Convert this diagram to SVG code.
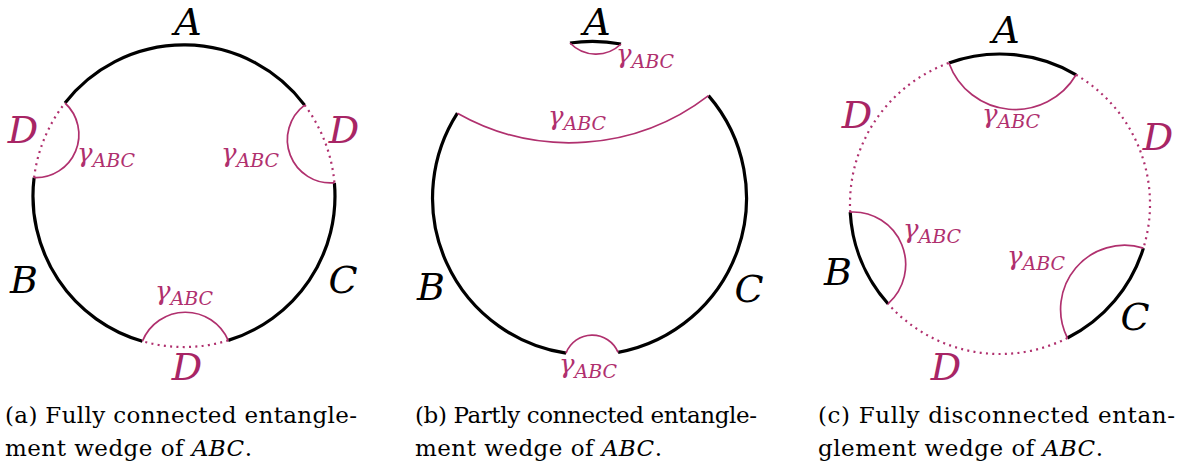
<svg xmlns="http://www.w3.org/2000/svg" width="1181" height="471" viewBox="0 0 1181 471">
<rect width="1181" height="471" fill="#fff"/>
<g id="panel-a">
  <g id="a-boundary" fill="none" stroke="#000" stroke-width="3.2">
    <path d="M65.0,103.0 A151,151 0 0 1 304.6,105.1"/>
    <path d="M334.4,182.8 A151,151 0 0 1 228.2,340.4"/>
    <path d="M142.4,341.2 A151,151 0 0 1 34.1,177.6"/>
  </g>
  <g id="a-dotted" fill="none" stroke="#B0306E" stroke-width="2.2" stroke-dasharray="2 4.3">
    <path d="M34.1,177.6 A151,151 0 0 1 65.0,103.0"/>
    <path d="M304.6,105.1 A151,151 0 0 1 334.4,182.8"/>
    <path d="M228.2,340.4 A151,151 0 0 1 142.4,341.2"/>
  </g>
  <g id="a-geodesics" fill="none" stroke="#B0306E" stroke-width="1.7">
    <path d="M34.1,177.6 A43,43 0 0 0 65.0,103.0"/>
    <path d="M304.6,105.1 A43.3,43.3 0 0 0 334.4,182.8"/>
    <path d="M228.2,340.4 A46.5,46.5 0 0 0 142.4,341.2"/>
  </g>
  <g id="a-labels">
    <text font-family="DejaVu Serif" font-style="italic" font-size="38" text-anchor="middle" x="188" y="35">A</text>
    <text font-family="DejaVu Serif" font-style="italic" font-size="38" text-anchor="middle" x="24" y="293">B</text>
    <text font-family="DejaVu Serif" font-style="italic" font-size="38" text-anchor="middle" x="343" y="293">C</text>
    <text font-family="DejaVu Serif" font-style="italic" font-size="38" text-anchor="middle" fill="#A82565" x="23" y="143">D</text>
    <text font-family="DejaVu Serif" font-style="italic" font-size="38" text-anchor="middle" fill="#A82565" x="344" y="143">D</text>
    <text font-family="DejaVu Serif" font-style="italic" font-size="38" text-anchor="middle" fill="#A82565" x="187" y="380">D</text>
    <text font-family="DejaVu Serif" font-style="italic" font-size="26" fill="#B0306E" x="77" y="162">γ<tspan font-size="19" dy="5">ABC</tspan></text>
    <text font-family="DejaVu Serif" font-style="italic" font-size="26" fill="#B0306E" x="221" y="162">γ<tspan font-size="19" dy="5">ABC</tspan></text>
    <text font-family="DejaVu Serif" font-style="italic" font-size="26" fill="#B0306E" x="155" y="300">γ<tspan font-size="19" dy="5">ABC</tspan></text>
  </g>
</g>

<g id="panel-b">
  <g id="b-boundary" fill="none" stroke="#000" stroke-width="3.2">
    <path d="M708.5,95.6 A157,157 0 0 1 618.1,352.4"/>
    <path d="M566.0,353.2 A157,157 0 0 1 457.4,113.2"/>
    <path d="M570,43 A157,157 0 0 1 621,44"/>
  </g>
  <g id="b-geodesics" fill="none" stroke="#B0306E" stroke-width="1.7">
    <path d="M457.4,113.2 A228,228 0 0 0 708.5,95.6"/>
    <path d="M566.0,353.2 A28,28 0 0 1 618.1,352.4"/>
    <path d="M570,43 A36,36 0 0 0 621,44"/>
  </g>
  <g id="b-labels">
    <text font-family="DejaVu Serif" font-style="italic" font-size="38" text-anchor="middle" x="597" y="35">A</text>
    <text font-family="DejaVu Serif" font-style="italic" font-size="38" text-anchor="middle" x="431" y="300">B</text>
    <text font-family="DejaVu Serif" font-style="italic" font-size="38" text-anchor="middle" x="749" y="302">C</text>
    <text font-family="DejaVu Serif" font-style="italic" font-size="26" fill="#B0306E" x="616" y="63">γ<tspan font-size="19" dy="5">ABC</tspan></text>
    <text font-family="DejaVu Serif" font-style="italic" font-size="26" fill="#B0306E" x="548" y="125">γ<tspan font-size="19" dy="5">ABC</tspan></text>
    <text font-family="DejaVu Serif" font-style="italic" font-size="26" fill="#B0306E" x="559" y="373">γ<tspan font-size="19" dy="5">ABC</tspan></text>
  </g>
</g>

<g id="panel-c">
  <g id="c-boundary" fill="none" stroke="#000" stroke-width="3.2">
    <path d="M948.9,62.95 A150,150 0 0 1 1076.1,74.8"/>
    <path d="M1143.4,248.1 A150,150 0 0 1 1067.4,338.0"/>
    <path d="M888.0,303.8 A150,150 0 0 1 850.2,212.1"/>
  </g>
  <g id="c-dotted" fill="none" stroke="#B0306E" stroke-width="2.2" stroke-dasharray="2 4.3">
    <path d="M1076.1,74.8 A150,150 0 0 1 1143.4,248.1"/>
    <path d="M1067.4,338.0 A150,150 0 0 1 888.0,303.8"/>
    <path d="M850.2,212.1 A150,150 0 0 1 948.9,62.95"/>
  </g>
  <g id="c-geodesics" fill="none" stroke="#B0306E" stroke-width="1.7">
    <path d="M948.9,62.95 A70.6,70.6 0 0 0 1076.1,74.8"/>
    <path d="M888.0,303.8 A52.5,52.5 0 0 0 850.2,212.1"/>
    <path d="M1143.4,248.1 A64,64 0 0 0 1067.4,338.0"/>
  </g>
  <g id="c-labels">
    <text font-family="DejaVu Serif" font-style="italic" font-size="38" text-anchor="middle" x="1006" y="43">A</text>
    <text font-family="DejaVu Serif" font-style="italic" font-size="38" text-anchor="middle" x="838" y="285">B</text>
    <text font-family="DejaVu Serif" font-style="italic" font-size="38" text-anchor="middle" x="1135" y="330">C</text>
    <text font-family="DejaVu Serif" font-style="italic" font-size="38" text-anchor="middle" fill="#A82565" x="857" y="128">D</text>
    <text font-family="DejaVu Serif" font-style="italic" font-size="38" text-anchor="middle" fill="#A82565" x="1158" y="150">D</text>
    <text font-family="DejaVu Serif" font-style="italic" font-size="38" text-anchor="middle" fill="#A82565" x="946" y="380">D</text>
    <text font-family="DejaVu Serif" font-style="italic" font-size="26" fill="#B0306E" x="982" y="123">γ<tspan font-size="19" dy="5">ABC</tspan></text>
    <text font-family="DejaVu Serif" font-style="italic" font-size="26" fill="#B0306E" x="903" y="238">γ<tspan font-size="19" dy="5">ABC</tspan></text>
    <text font-family="DejaVu Serif" font-style="italic" font-size="26" fill="#B0306E" x="1007" y="265">γ<tspan font-size="19" dy="5">ABC</tspan></text>
  </g>
</g>

<g id="captions">
  <text font-family="DejaVu Serif, serif" font-size="23" x="5" y="423" textLength="352">(a) Fully connected entangle-</text>
  <text font-family="DejaVu Serif, serif" font-size="23" x="5" y="456" textLength="247">ment wedge of <tspan font-style="italic">ABC</tspan>.</text>
  <text font-family="DejaVu Serif, serif" font-size="23" x="415" y="423" textLength="342">(b) Partly connected entangle-</text>
  <text font-family="DejaVu Serif, serif" font-size="23" x="415" y="456" textLength="247">ment wedge of <tspan font-style="italic">ABC</tspan>.</text>
  <text font-family="DejaVu Serif, serif" font-size="23" x="818" y="423" textLength="357">(c) Fully disconnected entan-</text>
  <text font-family="DejaVu Serif, serif" font-size="23" x="818" y="456" textLength="285">glement wedge of <tspan font-style="italic">ABC</tspan>.</text>
</g>
</svg>
